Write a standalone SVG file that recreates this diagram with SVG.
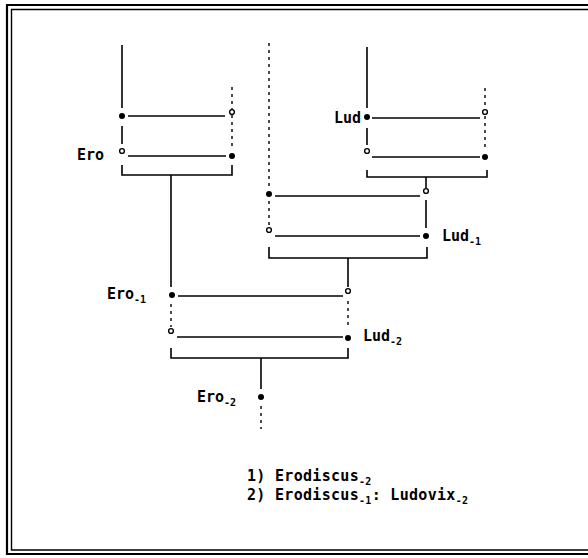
<svg xmlns="http://www.w3.org/2000/svg" width="588" height="558" viewBox="0 0 588 558">
<style>
.ln{stroke:#000;stroke-width:1.6;fill:none}
.ds{stroke:#000;stroke-width:1.4;fill:none;stroke-dasharray:3 4}
.fd{fill:#000}
.od{fill:#fff;stroke:#000;stroke-width:1.4}
text{font-family:"DejaVu Sans Mono","Liberation Mono",monospace;font-weight:bold;font-size:15px;fill:#000}
.sb{font-size:10px}
</style>
<rect x="0" y="0" width="588" height="558" fill="#fff"/>
<g id="border">
<path d="M600,5 H7 V554 H600" fill="none" stroke="#000" stroke-width="2.2"/>
<path d="M600,9.5 H11.5 V550 H600" fill="none" stroke="#000" stroke-width="1.4"/>
</g>
<g id="connectors">
<!-- Ero tree -->
<path class="ln" d="M122,45 V108"/>
<path class="ln" d="M128,116 H225"/>
<path class="ds" d="M232,87 V149"/>
<path class="ln" d="M122,126 V144"/>
<path class="ln" d="M128,156 H226"/>
<path class="ln" d="M122,165 V175 H232 V165"/>
<path class="ln" d="M171,175 V287"/>
<!-- Lud tree -->
<path class="ln" d="M367,47 V108"/>
<path class="ln" d="M372,118 H480"/>
<path class="ds" d="M485,88 V150"/>
<path class="ln" d="M367,128 V145"/>
<path class="ln" d="M372,157 H480"/>
<path class="ln" d="M367,170 V177 H487 V170"/>
<path class="ln" d="M426,177 V188"/>
<!-- Lud-1 generation -->
<path class="ds" d="M269,43 V188"/>
<path class="ln" d="M275,196 H420"/>
<path class="ln" d="M426,200 V228"/>
<path class="ds" d="M269,201 V225"/>
<path class="ln" d="M275,236 H420"/>
<path class="ln" d="M269,247 V258 H427 V247"/>
<path class="ln" d="M348,258 V287"/>
<!-- Ero-1 / Lud-2 generation -->
<path class="ln" d="M178,296 H343"/>
<path class="ds" d="M348,301 V329"/>
<path class="ds" d="M171,304 V327"/>
<path class="ln" d="M177,337 H343"/>
<path class="ln" d="M171,348 V358 H348 V348"/>
<path class="ln" d="M261,358 V389"/>
<path class="ds" d="M261,406 V429"/>
</g>
<g id="node-ero">
<circle class="fd" cx="122" cy="116" r="3"/>
<circle class="od" cx="232" cy="112" r="2.4"/>
<circle class="od" cx="122" cy="151" r="2.4"/>
<circle class="fd" cx="232" cy="156" r="3"/>
<text x="104" y="160" text-anchor="end">Ero</text>
</g>
<g id="node-lud">
<circle class="fd" cx="367" cy="117" r="3"/>
<circle class="od" cx="485" cy="112" r="2.4"/>
<circle class="od" cx="367" cy="151" r="2.4"/>
<circle class="fd" cx="485" cy="157" r="3"/>
<text x="361" y="123" text-anchor="end">Lud</text>
</g>
<g id="node-lud-1">
<circle class="fd" cx="269" cy="194" r="3"/>
<circle class="od" cx="426" cy="191" r="2.4"/>
<circle class="od" cx="269" cy="230" r="2.4"/>
<circle class="fd" cx="426" cy="236" r="3"/>
<text x="442" y="241">Lud<tspan class="sb" dy="4">-1</tspan></text>
</g>
<g id="node-ero-1">
<circle class="fd" cx="172" cy="295" r="3"/>
<circle class="od" cx="348" cy="291" r="2.4"/>
<circle class="od" cx="171" cy="331" r="2.4"/>
<circle class="fd" cx="348" cy="338" r="3"/>
<text x="107" y="299">Ero<tspan class="sb" dy="4">-1</tspan></text>
<text x="363" y="341">Lud<tspan class="sb" dy="4">-2</tspan></text>
</g>
<g id="node-ero-2">
<circle class="fd" cx="261" cy="397" r="3"/>
<text x="197" y="402">Ero<tspan class="sb" dy="4">-2</tspan></text>
</g>
<g id="notes">
<text x="247" y="481" letter-spacing="0.3">1) Erodiscus<tspan class="sb" dy="4">-2</tspan></text>
<text x="247" y="500" letter-spacing="0.3">2) Erodiscus<tspan class="sb" dy="4">-1</tspan><tspan dy="-4">: Ludovix</tspan><tspan class="sb" dy="4">-2</tspan></text>
</g>
</svg>
